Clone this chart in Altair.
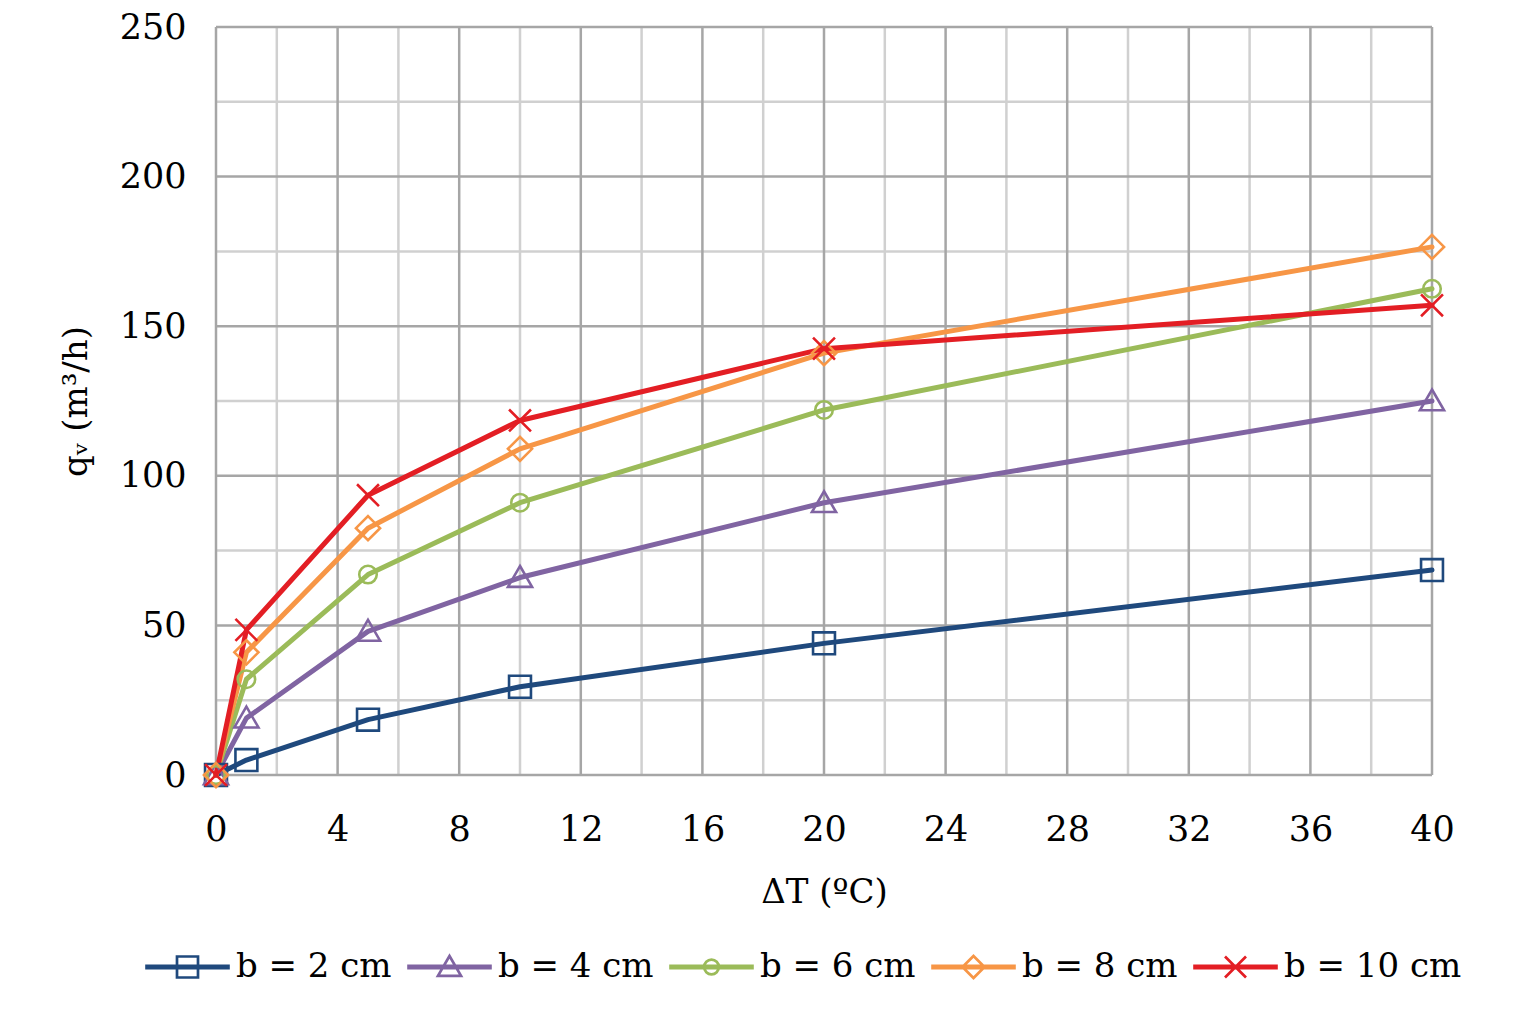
import altair as alt
import pandas as pd

dT = [0, 1, 5, 10, 20, 40]
series_names = ["b = 2 cm", "b = 4 cm", "b = 6 cm", "b = 8 cm", "b = 10 cm"]
q_b2 = [0, 5, 18.5, 29.5, 44, 68.5]
q_b4 = [0, 19, 48, 66, 91, 125]
q_b6 = [0, 32, 67, 91, 122, 162.5]
q_b8 = [0, 41, 82.5, 109, 141, 176.5]
q_b10 = [0, 48.5, 93.5, 118.5, 142.5, 157]
colors = ["#1F497D", "#8064A2", "#9BBB59", "#F79646", "#E31E24"]

x_major = [0, 4, 8, 12, 16, 20, 24, 28, 32, 36, 40]
x_minor = [2, 6, 10, 14, 18, 22, 26, 30, 34, 38]
y_major = [0, 50, 100, 150, 200, 250]
y_minor = [25, 75, 125, 175, 225]

# marker shapes (unit paths)
plot_shapes = [
    "M-1,-1H1V1H-1Z",
    "M0,-1.05L1.1,0.85L-1.1,0.85Z",
    "M0.8,0A0.8,0.8,0,1,1,-0.8,0A0.8,0.8,0,1,1,0.8,0Z",
    "M0,-1.1L1.1,0L0,1.1L-1.1,0Z",
    "M-1,-1L1,1M-1,1L1,-1",
]
line_part = "M-0.9,-0.12H6.9V0.12H-0.9Z"
legend_shapes = [
    line_part + "M2,-1H4V1H2Z",
    line_part + "M3,-1.05L4.1,0.85L1.9,0.85Z",
    line_part + "M3.7,0A0.7,0.7,0,1,1,2.3,0A0.7,0.7,0,1,1,3.7,0Z",
    line_part + "M3,-1.05L4.05,0L3,1.05L1.95,0Z",
    line_part + "M2,-1L4,1M2,1L4,-1",
]

rows = []
for k, (name, vals) in enumerate(zip(series_names, [q_b2, q_b4, q_b6, q_b8, q_b10])):
    for x, y in zip(dT, vals):
        rows.append({"series": name, "dT": x, "q": y, "order": k})
df = pd.DataFrame(rows)

FONT = "DejaVu Serif"
xs = alt.Scale(domain=[0, 40], nice=False)
ys = alt.Scale(domain=[0, 250], nice=False)

x_enc = alt.X("dT:Q", scale=xs, title="ΔT (ºC)",
              axis=alt.Axis(values=x_major, labelPadding=37, titlePadding=28, format="d",
                            labelFlush=False))
y_enc = alt.Y("q:Q", scale=ys, title="qᵥ (m³/h)",
              axis=alt.Axis(values=y_major, labelPadding=30, titlePadding=26, format="d",
                            labelFlush=False))

minor_x = alt.Chart(pd.DataFrame({"v": x_minor})).mark_rule(color="#D0D0D0", strokeWidth=2.5).encode(
    x=alt.X("v:Q", scale=xs))
minor_y = alt.Chart(pd.DataFrame({"v": y_minor})).mark_rule(color="#D0D0D0", strokeWidth=2.5).encode(
    y=alt.Y("v:Q", scale=ys))
major_x = alt.Chart(pd.DataFrame({"v": x_major})).mark_rule(color="#A6A6A6", strokeWidth=2.5).encode(
    x=alt.X("v:Q", scale=xs))
major_y = alt.Chart(pd.DataFrame({"v": y_major})).mark_rule(color="#A6A6A6", strokeWidth=2.5).encode(
    y=alt.Y("v:Q", scale=ys))

color_plot = alt.Color("series:N", scale=alt.Scale(domain=series_names, range=colors), legend=None)

lines = alt.Chart(df).mark_line(strokeWidth=5, strokeJoin="round", strokeCap="round").encode(
    x=x_enc, y=y_enc, color=color_plot, order="order:Q",
)
points = alt.Chart(df).mark_point(filled=False, size=480, strokeWidth=2.6, opacity=1).encode(
    x=alt.X("dT:Q", scale=xs), y=alt.Y("q:Q", scale=ys), color=color_plot,
    shape=alt.Shape("series:N", scale=alt.Scale(domain=series_names, range=plot_shapes), legend=None),
)

main = alt.layer(minor_x, minor_y, major_x, major_y, lines, points)

leg = alt.Legend(title=None, orient="none", legendX=-77, legendY=923, direction="horizontal",
                 symbolSize=441, symbolStrokeWidth=2.7, symbolOpacity=1, labelFont=FONT,
                 labelFontSize=34, labelColor="black", labelOffset=63, columnPadding=9,
                 labelLimit=400)

legend_layer = alt.Chart(df).mark_point(filled=False, opacity=0).encode(
    x=alt.X("dT:Q", scale=xs), y=alt.Y("q:Q", scale=ys),
    color=alt.Color("series:N", scale=alt.Scale(domain=series_names, range=colors), legend=leg),
    shape=alt.Shape("series:N", scale=alt.Scale(domain=series_names, range=legend_shapes), legend=leg),
)

chart = alt.layer(main, legend_layer).resolve_scale(color="independent", shape="independent").properties(
    width=1216, height=748,
    autosize=alt.AutoSizeParams(type="none"),
    padding={"left": 208, "top": 19, "right": 70, "bottom": 230},
).configure_view(stroke=None).configure_axis(
    grid=False, ticks=False, domain=False,
    labelFont=FONT, labelFontSize=35, labelColor="black",
    titleFont=FONT, titleFontSize=34, titleFontWeight="normal", titleColor="black",
)

chart.save("out.html", embed_options={"renderer": "svg", "actions": False})
